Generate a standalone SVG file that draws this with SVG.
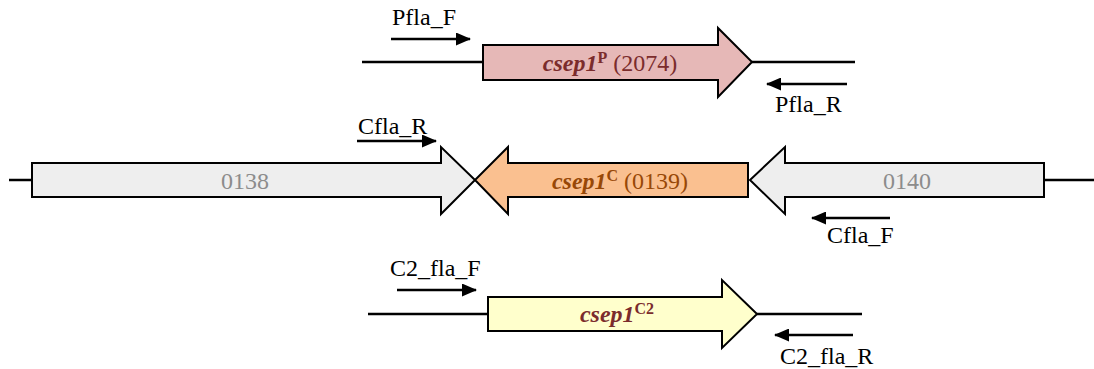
<svg xmlns="http://www.w3.org/2000/svg" width="1094" height="369" viewBox="0 0 1094 369">
<style>
text{font-family:"Liberation Serif","Times New Roman",serif;}
.lbl{font-size:24px;fill:#000;}
.gene{stroke:#000;stroke-width:2;stroke-linejoin:miter;}
.bb{stroke:#000;stroke-width:2.5;fill:none;}
.pr{stroke:#000;stroke-width:2.5;fill:none;marker-end:url(#ah);}
.gt{font-size:24px;text-anchor:middle;}
.it{font-weight:bold;font-style:italic;}
.sup{font-weight:bold;font-size:16px;}
</style>
<defs>
<marker id="ah" markerUnits="userSpaceOnUse" markerWidth="15" markerHeight="13" refX="14" refY="6.5" orient="auto">
<path d="M0,0 L15,6.5 L0,13 z" fill="#000"/>
</marker>
</defs>
<g id="connectors">
<line class="bb" x1="362" y1="62" x2="483" y2="62"/>
<line class="bb" x1="752" y1="62" x2="855" y2="62"/>
<line class="bb" x1="9" y1="180" x2="32" y2="180"/>
<line class="bb" x1="1044" y1="180" x2="1094" y2="180"/>
<line class="bb" x1="368" y1="314" x2="488" y2="314"/>
<line class="bb" x1="757" y1="314" x2="862" y2="314"/>
</g>
<g id="primers">
<g id="Pfla_F"><line class="pr" x1="391" y1="39" x2="470" y2="39"/><text class="lbl" x="392" y="25">Pfla_F</text></g>
<g id="Pfla_R"><line class="pr" x1="847" y1="84" x2="767" y2="84"/><text class="lbl" x="775" y="112">Pfla_R</text></g>
<g id="Cfla_R"><line class="pr" x1="357" y1="141" x2="436" y2="141"/><text class="lbl" x="358" y="134">Cfla_R</text></g>
<g id="Cfla_F"><line class="pr" x1="890" y1="218" x2="812" y2="218"/><text class="lbl" x="827" y="243">Cfla_F</text></g>
<g id="C2_fla_F"><line class="pr" x1="397" y1="290" x2="476" y2="290"/><text class="lbl" x="390" y="276">C2_fla_F</text></g>
<g id="C2_fla_R"><line class="pr" x1="853" y1="335" x2="775" y2="335"/><text class="lbl" x="780" y="364">C2_fla_R</text></g>
</g>
<g id="gene_csep1P">
<polygon class="gene" fill="#E6B8B7" points="483,45 718,45 718,28 752,62 718,97 718,80 483,80"/>
<text class="gt" x="610" y="71" fill="#7B2C2C"><tspan class="it">csep1</tspan><tspan class="sup" dy="-8">P</tspan><tspan dy="8"> (2074)</tspan></text>
</g>
<g id="gene_0138">
<polygon class="gene" fill="#EEEEEE" points="32,163 441,163 441,147 475,180 441,214 441,197 32,197"/>
<text class="gt" x="245" y="189" fill="#8C8C8C">0138</text>
</g>
<g id="gene_csep1C">
<polygon class="gene" fill="#FAC090" points="748,163 508,163 508,147 475,180 508,214 508,197 748,197"/>
<text class="gt" x="620" y="189" fill="#984807"><tspan class="it">csep1</tspan><tspan class="sup" dy="-8">C</tspan><tspan dy="8"> (0139)</tspan></text>
</g>
<g id="gene_0140">
<polygon class="gene" fill="#EEEEEE" points="1044,163 785,163 785,147 750,180 785,214 785,197 1044,197"/>
<text class="gt" x="907" y="189" fill="#8C8C8C">0140</text>
</g>
<g id="gene_csep1C2">
<polygon class="gene" fill="#FFFFCC" points="488,297 722,297 722,280 757,314 722,348 722,331 488,331"/>
<text class="gt" x="617" y="322" fill="#7B2C2C"><tspan class="it">csep1</tspan><tspan class="sup" dy="-8">C2</tspan></text>
</g>
</svg>
